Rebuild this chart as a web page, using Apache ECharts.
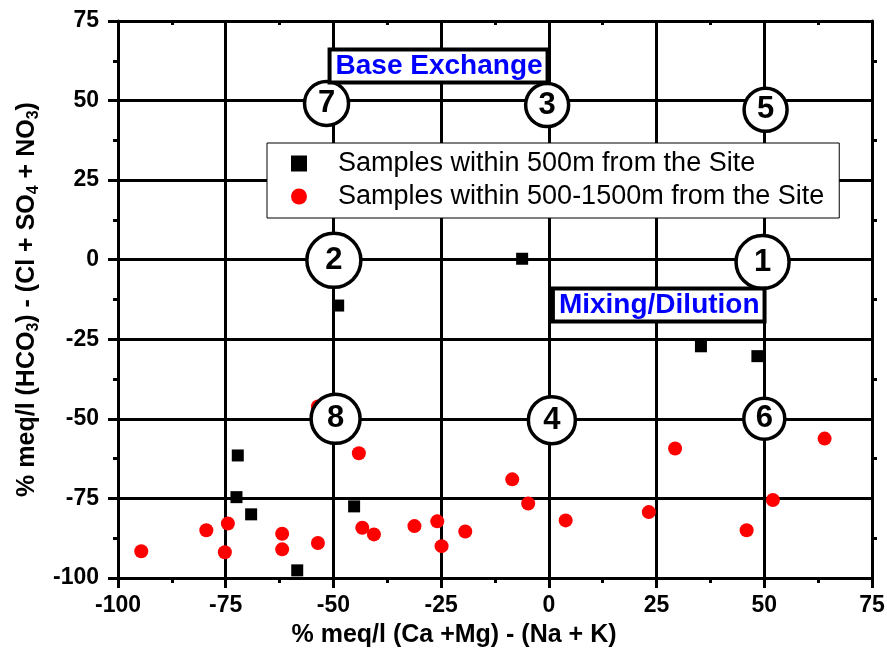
<!DOCTYPE html>
<html><head><meta charset="utf-8">
<script src="https://cdn.jsdelivr.net/npm/echarts@6/dist/echarts.min.js"></script>
<style>html,body{margin:0;padding:0;background:#fff}#c{width:887px;height:657px}</style>
</head><body><div id="c"></div>
<script>
// ---- data ----
const xMin = -100, xMax = 75, xStep = 25;
const yMin = -100, yMax = 75, yStep = 25;

const seriesNames = ['Samples within 500m from the Site', 'Samples within 500-1500m from the Site'];

const nearX = [-6.2, -48.9, 35.3, 48.4, -72.2, -72.5, -69.1, -45.2, -58.4];
const nearY = [0.3, -14.4, -27.2, -30.3, -61.5, -74.6, -80.0, -77.5, -97.6];

const farX = [-94.6, -79.5, -74.5, -75.2, -61.9, -61.9, -53.6, -53.6, -44.1, -43.3, -40.6, -31.2,
              -25.9, -24.9, -19.4, -8.5, -4.8, 3.9, 23.2, 29.3, 45.9, 52.0, 64.0];
const farY = [-91.6, -85.0, -82.9, -91.9, -86.1, -91.0, -89.0, -46.1, -60.8, -84.2, -86.3, -83.7,
              -82.2, -90.0, -85.4, -69.0, -76.6, -81.9, -79.3, -59.3, -85.0, -75.5, -56.2];

const zoneLabels = ['7', '3', '5', '2', '1', '8', '4', '6'];
const zoneX = [-51.6, -0.4, 50.3, -49.9, 49.6, -49.5, 0.7, 50.0];
const zoneY = [49.1, 48.6, 47.1, -0.2, -0.75, -50.0, -50.4, -50.0];

const processLabels = ['Base Exchange', 'Mixing/Dilution'];
const processX = [-25.6, 25.5];
const processY = [60.9, -14.2];

// ---- styles ----
const FONT = "'Liberation Sans', Arial, Helvetica, sans-serif";
const zoneCircleSize = {'7': 44, '3': 43, '5': 43, '2': 54, '1': 53, '8': 49, '4': 47, '6': 41};

const chart = echarts.init(document.getElementById('c'), null, {renderer: 'canvas'});

const baseAxis = {
  axisLine: {show: true, onZero: false, lineStyle: {color: '#000', width: 3}},
  splitLine: {show: false},
  axisLabel: {show: false},
  axisTick: {show: false},
  minorTick: {show: true, splitNumber: 2, length: 5, lineStyle: {color: '#000', width: 3}}
};

const option = {
  animation: false,
  backgroundColor: '#fff',
  grid: {left: 118, right: 15, top: 21, bottom: 79, outerBoundsMode: 'none', containLabel: false},
  legend: {
    left: 267, top: 143, orient: 'vertical',
    backgroundColor: '#fff', borderColor: '#000', borderWidth: 1, borderRadius: 0,
    padding: [7, 15, 8, 24],
    itemWidth: 16, itemHeight: 16, itemGap: 6,
    textStyle: {fontSize: 27, color: '#000', fontFamily: FONT, lineHeight: 27, padding: [0, 0, 0, 26]},
    data: [{name: seriesNames[0], icon: 'rect'}, {name: seriesNames[1], icon: 'circle'}],
    z: 10
  },
  xAxis: [
    Object.assign({}, baseAxis, {
      type: 'value', position: 'bottom', min: xMin, max: xMax, interval: xStep,
      axisTick: {show: true, inside: false, length: 10, lineStyle: {color: '#000', width: 3}},
      minorTick: {show: true, splitNumber: 2, length: 5, lineStyle: {color: '#000', width: 3}},
      splitLine: {show: true, lineStyle: {color: '#000', width: 3}},
      axisLabel: {show: true, fontSize: 23, fontWeight: 'bold', color: '#000', fontFamily: FONT, margin: 16},
      name: '% meq/l (Ca +Mg) - (Na + K)',
      nameLocation: 'middle', nameGap: 45,
      nameTextStyle: {fontSize: 25, fontWeight: 'bold', color: '#000', fontFamily: FONT, padding: [0, 82, 0, 0]}
    }),
    Object.assign({}, baseAxis, {
      type: 'value', position: 'top', min: xMin, max: xMax, interval: xStep,
      axisTick: {show: false, inside: true},
      minorTick: {show: true, splitNumber: 2, length: 4, lineStyle: {color: '#000', width: 3}}
    })
  ],
  yAxis: [
    Object.assign({}, baseAxis, {
      type: 'value', position: 'left', min: yMin, max: yMax, interval: yStep,
      axisTick: {show: true, inside: false, length: 10, lineStyle: {color: '#000', width: 3}},
      minorTick: {show: true, splitNumber: 2, length: 5, lineStyle: {color: '#000', width: 3}},
      splitLine: {show: true, lineStyle: {color: '#000', width: 3}},
      axisLabel: {show: true, fontSize: 23, fontWeight: 'bold', color: '#000', fontFamily: FONT, margin: 19},
      name: '{m|% meq/l (HCO}{s|3}{m|) - (Cl + SO}{s|4}{m| + NO}{s|3}{m|)}',
      nameLocation: 'middle', nameGap: 73, nameRotate: 90,
      nameTextStyle: {
        color: '#000', fontFamily: FONT,
        rich: {
          m: {fontSize: 25, fontWeight: 'bold', color: '#000', fontFamily: FONT, lineHeight: 30},
          s: {fontSize: 16, fontWeight: 'bold', color: '#000', fontFamily: FONT, lineHeight: 16, verticalAlign: 'bottom'}
        }
      }
    }),
    Object.assign({}, baseAxis, {
      type: 'value', position: 'right', min: yMin, max: yMax, interval: yStep,
      axisTick: {show: false, inside: false},
      minorTick: {show: true, splitNumber: 2, length: 5, lineStyle: {color: '#000', width: 3}}
    })
  ],
  series: [
    {
      name: seriesNames[0], type: 'scatter', symbol: 'rect', symbolSize: 12,
      itemStyle: {color: '#000', opacity: 1}, z: 3,
      emphasis: {disabled: true},
      data: nearX.map((x, i) => [x, nearY[i]])
    },
    {
      name: seriesNames[1], type: 'scatter', symbol: 'circle', symbolSize: 14,
      itemStyle: {color: '#ff0000', opacity: 1}, z: 3,
      emphasis: {disabled: true},
      data: farX.map((x, i) => [x, farY[i]])
    },
    {
      name: 'zones', type: 'scatter', symbol: 'circle', z: 5, silent: true,
      itemStyle: {color: '#fff', borderColor: '#000', borderWidth: 3.5, opacity: 1},
      label: {show: true, position: 'inside', formatter: '{b}', fontSize: 31, fontWeight: 'bold', color: '#000', fontFamily: FONT},
      data: zoneLabels.map((n, i) => ({name: n, value: [zoneX[i], zoneY[i]], symbolSize: zoneCircleSize[n]}))
    },
    {
      name: 'processes', type: 'scatter', symbol: 'rect', symbolSize: 1, z: 6, silent: true,
      itemStyle: {color: '#fff', opacity: 1},
      label: {
        show: true, position: 'inside', formatter: '{b}',
        fontSize: 28, fontWeight: 'bold', color: '#0000ff', fontFamily: FONT, lineHeight: 28,
        backgroundColor: '#fff', borderColor: '#000', borderWidth: 4, padding: [1, 3, 0, 4]
      },
      data: processLabels.map((n, i) => ({name: n, value: [processX[i], processY[i]]}))
    }
  ]
};
chart.setOption(option);
</script>
</body></html>
